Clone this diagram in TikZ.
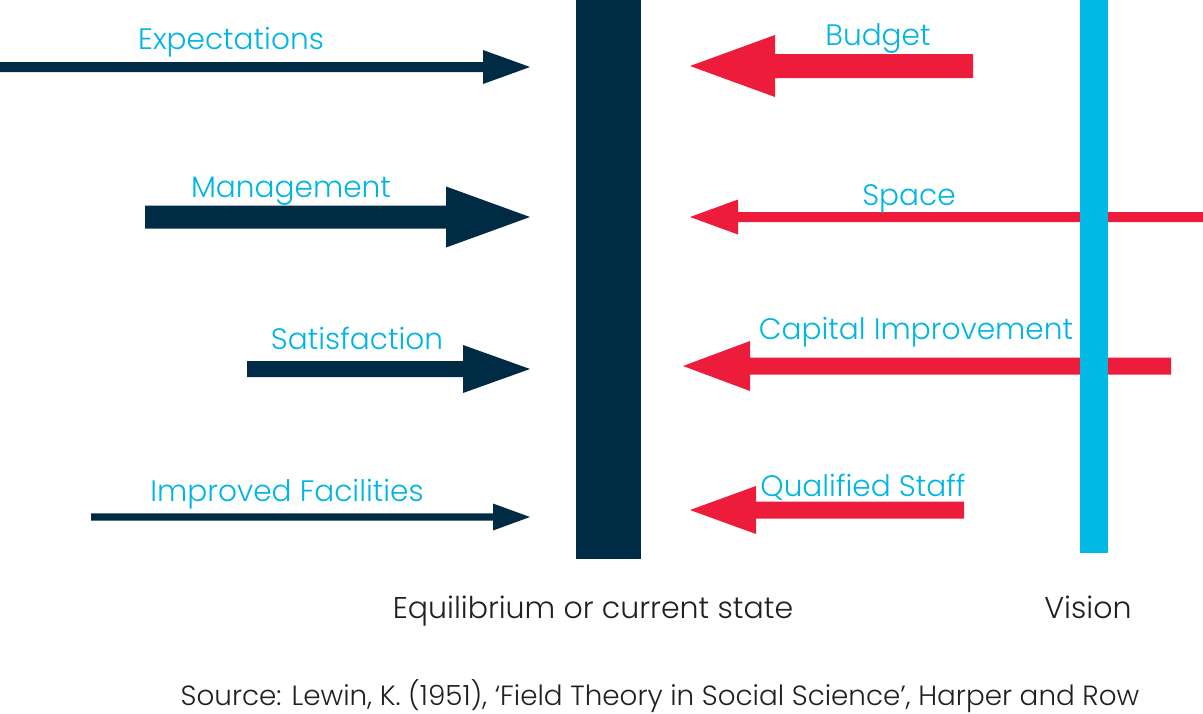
\documentclass[tikz,border=0pt]{standalone}
\usepackage{fontspec}
\IfFontExistsTF{Poppins Light}{\setmainfont{Poppins Light}}{\setmainfont{Poppins}}
\usetikzlibrary{calc}
\definecolor{navy}{HTML}{002B45}
\definecolor{forcered}{HTML}{EE1C3B}
\definecolor{visioncyan}{HTML}{00B8E4}
\definecolor{labelcyan}{HTML}{00B5E2}
\definecolor{darktext}{HTML}{231F20}
% colour, tail, tip, shaft half width, head length (signed), head half width
\newcommand{\forcearrow}[6]{%
  \fill[#1] ($(#2)+(0,#4)$) -- ($(#3)+(#5,#4)$) -- ($(#3)+(#5,#6)$) -- (#3)
    -- ($(#3)+(#5,-#6)$) -- ($(#3)+(#5,-#4)$) -- ($(#2)+(0,-#4)$) -- cycle;}
\begin{document}
\begin{tikzpicture}[x=1pt,y=-1pt,
  lbl/.style={anchor=base,inner sep=0pt,text=labelcyan,font=\fontsize{29.6}{36}\selectfont},
  blk/.style={anchor=base,inner sep=0pt,text=darktext,font=\fontsize{30}{36}\selectfont},
  src/.style={anchor=base,inner sep=0pt,text=darktext,font=\fontsize{27.8}{34}\selectfont},
  bar/.style={draw=none,inner sep=0pt,anchor=north west}]
\useasboundingbox (0,0) rectangle (1203,713);
% driving forces (navy)
\coordinate (e0) at (0,67);    \coordinate (e1) at (530,67);
\coordinate (m0) at (145,217); \coordinate (m1) at (530,217);
\coordinate (s0) at (247,369); \coordinate (s1) at (530,369);
\coordinate (f0) at (91,517);  \coordinate (f1) at (530,517);
\forcearrow{navy}{e0}{e1}{5}{-47}{17}
\forcearrow{navy}{m0}{m1}{11.5}{-84}{30.5}
\forcearrow{navy}{s0}{s1}{8}{-67}{24}
\forcearrow{navy}{f0}{f1}{3.7}{-37}{13.5}
% restraining forces (red)
\coordinate (b0) at (973,66);   \coordinate (b1) at (690,66);
\coordinate (p0) at (1203,217); \coordinate (p1) at (690,217);
\coordinate (c0) at (1171,366); \coordinate (c1) at (683,366);
\coordinate (q0) at (964,510);  \coordinate (q1) at (690,510);
\forcearrow{forcered}{b0}{b1}{12}{85}{31}
\forcearrow{forcered}{p0}{p1}{5}{48}{17.5}
\forcearrow{forcered}{c0}{c1}{8.5}{67}{25}
\forcearrow{forcered}{q0}{q1}{8.5}{66}{24}
% bars
\node[bar,fill=navy,minimum width=65pt,minimum height=559pt] (eq) at (576,0) {};
\node[bar,fill=visioncyan,minimum width=28pt,minimum height=553pt] (vis) at (1080,0) {};
% labels
\node[lbl] (lexp) at (231,49) {Expectations};
\node[lbl] (lman) at (291,197) {Management};
\node[lbl] (lsat) at (357,349) {Satisfaction};
\node[lbl] (lfac) at (287,501) {Improved Facilities};
\node[lbl] (lbud) at (878,45) {Budget};
\node[lbl] (lspa) at (909,205) {Space};
\node[lbl] (lcap) at (916,339) {Capital Improvement};
\node[lbl] (lqua) at (863,496) {Qualified Staff};
\node[blk] (leq) at (593,618) {Equilibrium or current state};
\node[blk] (lvis) at (1088,618) {Vision};
\node[src] (lsrc) at (660,705) {Source: Lewin, K. (1951), ‘Field Theory in Social Science’, Harper and Row};
\end{tikzpicture}
\end{document}
